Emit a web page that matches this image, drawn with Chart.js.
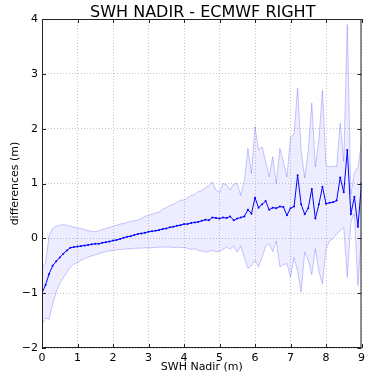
<!DOCTYPE html>
<html>
<head>
<meta charset="utf-8">
<script src="https://cdn.jsdelivr.net/npm/chart.js@4"></script>
<style>
  body { margin: 0; background: #fff; }
  canvas { display: block; }
</style>
</head>
<body>
<canvas id="swhChart" width="369" height="378"></canvas>
<script>
// SWH nadir bins (m)
const swhNadir = [
  0.0, 0.1, 0.2, 0.3, 0.4, 0.5, 0.6, 0.7, 0.8, 0.9,
  1.0, 1.1, 1.2, 1.3, 1.4, 1.5, 1.6, 1.7, 1.8, 1.9,
  2.0, 2.1, 2.2, 2.3, 2.4, 2.5, 2.6, 2.7, 2.8, 2.9,
  3.0, 3.1, 3.2, 3.3, 3.4, 3.5, 3.6, 3.7, 3.8, 3.9,
  4.0, 4.1, 4.2, 4.3, 4.4, 4.5, 4.6, 4.7, 4.8, 4.9,
  5.0, 5.1, 5.2, 5.3, 5.4, 5.5, 5.6, 5.7, 5.8, 5.9,
  6.0, 6.1, 6.2, 6.3, 6.4, 6.5, 6.6, 6.7, 6.8, 6.9,
  7.0, 7.1, 7.2, 7.3, 7.4, 7.5, 7.6, 7.7, 7.8, 7.9,
  8.0, 8.1, 8.2, 8.3, 8.4, 8.5, 8.6, 8.7, 8.8, 8.9,
  9.0
];

// mean difference (m)
const meanDiff = [
  -1.00, -0.85, -0.65, -0.50, -0.42, -0.35, -0.28, -0.22, -0.17, -0.16,
  -0.15, -0.14, -0.13, -0.12, -0.11, -0.10, -0.10, -0.08, -0.07, -0.06,
  -0.04, -0.03, -0.01, 0.01, 0.03, 0.04, 0.06, 0.08, 0.09, 0.10,
  0.12, 0.13, 0.14, 0.15, 0.17, 0.18, 0.20, 0.21, 0.23, 0.24,
  0.26, 0.26, 0.28, 0.29, 0.30, 0.32, 0.34, 0.33, 0.38, 0.37,
  0.36, 0.38, 0.37, 0.40, 0.33, 0.36, 0.38, 0.40, 0.52, 0.45,
  0.74, 0.56, 0.62, 0.68, 0.52, 0.56, 0.55, 0.58, 0.57, 0.42,
  0.55, 0.58, 1.15, 0.62, 0.44, 0.55, 0.90, 0.36, 0.62, 0.94,
  0.63, 0.65, 0.66, 0.69, 1.11, 0.84, 1.61, 0.44, 0.76, 0.21,
  1.00
];

// mean + std
const upperDiff = [
  -0.55, -0.45, 0.05, 0.18, 0.22, 0.24, 0.25, 0.24, 0.22, 0.20,
  0.19, 0.18, 0.16, 0.14, 0.13, 0.12, 0.14, 0.16, 0.18, 0.20,
  0.22, 0.24, 0.26, 0.27, 0.29, 0.31, 0.32, 0.33, 0.36, 0.40,
  0.42, 0.44, 0.46, 0.48, 0.53, 0.56, 0.60, 0.62, 0.66, 0.69,
  0.70, 0.74, 0.78, 0.80, 0.85, 0.87, 0.92, 0.96, 1.03, 0.88,
  0.84, 1.00, 0.98, 0.88, 0.99, 1.00, 0.78, 1.05, 1.64, 1.18,
  2.04, 1.61, 1.67, 1.40, 1.12, 1.49, 1.00, 1.64, 1.40, 1.12,
  1.85, 1.90, 2.74, 1.60, 1.10, 1.60, 2.47, 1.30, 1.80, 2.70,
  1.33, 1.30, 1.32, 1.30, 2.10, 1.40, 3.90, 0.80, 1.20, 1.30,
  1.75
];

// mean - std
const lowerDiff = [
  -1.58, -1.45, -1.48, -1.20, -0.98, -0.82, -0.72, -0.62, -0.52, -0.47,
  -0.44, -0.40, -0.37, -0.34, -0.32, -0.30, -0.28, -0.26, -0.24, -0.23,
  -0.22, -0.21, -0.20, -0.20, -0.19, -0.19, -0.18, -0.18, -0.18, -0.17,
  -0.18, -0.17, -0.17, -0.16, -0.16, -0.16, -0.16, -0.17, -0.16, -0.17,
  -0.17, -0.18, -0.20, -0.19, -0.22, -0.23, -0.25, -0.24, -0.22, -0.24,
  -0.24, -0.20, -0.16, -0.20, -0.14, -0.25, -0.14, -0.35, -0.55, -0.50,
  -0.40, -0.52, -0.35, -0.14, -0.10, -0.24, -0.05, -0.52, -0.48, -0.46,
  -0.71, -0.35, -0.60, -0.98, -0.25, -0.40, -0.66, -0.19, -0.60, -0.83,
  -0.20, -0.05, 0.00, 0.08, 0.14, 0.20, -0.71, 0.30, 0.45, -0.86,
  0.10
];

const xTickLabels = ['0', '1', '2', '3', '4', '5', '6', '7', '8', '9'];
const yTickLabels = ['\u22122', '\u22121', '0', '1', '2', '3', '4'];

const FONT = 'DejaVu Sans';

function pts(ys) {
  return swhNadir.map((x, i) => ({ x: x, y: ys[i] }));
}

// marco, ticks hacia dentro y textos al estilo matplotlib
const mplFrame = {
  id: 'mplFrame',
  afterDraw(chart) {
    const { ctx, chartArea: a, scales } = chart;
    ctx.save();
    ctx.strokeStyle = '#222';
    ctx.lineWidth = 1;
    ctx.beginPath();
    scales.x.ticks.forEach(t => {
      const px = Math.round(scales.x.getPixelForValue(t.value)) + 0.5;
      ctx.moveTo(px, a.bottom); ctx.lineTo(px, a.bottom - 4);
      ctx.moveTo(px, a.top); ctx.lineTo(px, a.top + 4);
    });
    scales.y.ticks.forEach(t => {
      const py = Math.round(scales.y.getPixelForValue(t.value)) + 0.5;
      ctx.moveTo(a.left, py); ctx.lineTo(a.left + 4, py);
      ctx.moveTo(a.right, py); ctx.lineTo(a.right - 4, py);
    });
    ctx.stroke();
    ctx.strokeRect(a.left + 0.5, a.top + 0.5, a.right - a.left - 1, a.bottom - a.top - 1);

    const cx = (a.left + a.right) / 2;
    ctx.fillStyle = '#000';
    ctx.textAlign = 'center';
    ctx.textBaseline = 'alphabetic';
    ctx.font = '16px "' + FONT + '"';
    ctx.fillText('SWH NADIR - ECMWF RIGHT', cx + 1, 17);

    ctx.font = '11px "' + FONT + '"';
    ctx.textBaseline = 'middle';
    ctx.fillText('SWH Nadir (m)', cx, 367);

    ctx.translate(15, (a.top + a.bottom) / 2);
    ctx.rotate(-Math.PI / 2);
    ctx.fillText('differences (m)', 0, 0);
    ctx.restore();
  }
};

const ctx = document.getElementById('swhChart');

new Chart(ctx, {
  type: 'line',
  data: {
    datasets: [
      {
        label: 'mean',
        data: pts(meanDiff),
        borderColor: '#0000ff',
        borderWidth: 1,
        pointRadius: 1,
        pointBackgroundColor: '#0000ff',
        pointBorderWidth: 0,
        fill: false,
        tension: 0,
        order: 0
      },
      {
        label: 'upper',
        data: pts(upperDiff),
        borderColor: 'rgba(0, 0, 255, 0.22)',
        borderWidth: 1,
        pointRadius: 0,
        backgroundColor: 'rgba(0, 0, 255, 0.07)',
        fill: '+1',
        tension: 0,
        order: 1
      },
      {
        label: 'lower',
        data: pts(lowerDiff),
        borderColor: 'rgba(0, 0, 255, 0.22)',
        borderWidth: 1,
        pointRadius: 0,
        fill: false,
        tension: 0,
        order: 2
      }
    ]
  },
  options: {
    responsive: false,
    devicePixelRatio: 1,
    animation: false,
    layout: { padding: { top: 19, right: 3, left: 0, bottom: 0 } },
    plugins: {
      legend: { display: false },
      tooltip: { enabled: false },
      title: { display: false }
    },
    scales: {
      x: {
        type: 'linear',
        min: 0,
        max: 9,
        afterFit: s => { s.height = 30; },
        border: { display: false, dash: [1, 2] },
        grid: { color: 'rgba(0,0,0,0.22)', lineWidth: 1, drawTicks: false },
        ticks: {
          stepSize: 1,
          autoSkip: false,
          maxRotation: 0,
          padding: 4,
          color: '#000',
          font: { family: FONT, size: 11 },
          callback: v => xTickLabels[v]
        }
      },
      y: {
        min: -2,
        max: 4,
        afterFit: s => { s.width = 42; },
        border: { display: false, dash: [1, 2] },
        grid: { color: 'rgba(0,0,0,0.22)', lineWidth: 1, drawTicks: false },
        ticks: {
          stepSize: 1,
          autoSkip: false,
          padding: 4,
          color: '#000',
          font: { family: FONT, size: 11 },
          callback: v => yTickLabels[v + 2]
        }
      }
    }
  },
  plugins: [mplFrame]
});
</script>
</body>
</html>
